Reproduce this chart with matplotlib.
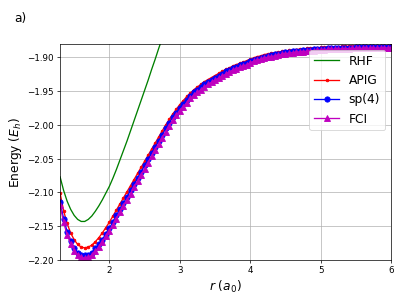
import numpy as np
import matplotlib
matplotlib.use('Agg')
import matplotlib.pyplot as plt

# bond length grid (a0)
r = np.round(np.arange(1.30, 6.001, 0.05), 2)

# RHF curve (line only)
r_rhf = [1.30, 1.35, 1.40, 1.45, 1.50, 1.55, 1.60, 1.65, 1.70, 1.75, 1.80,
         1.85, 1.90, 1.95, 2.00, 2.05, 2.10, 2.15, 2.20, 2.25, 2.30, 2.35,
         2.40, 2.45, 2.50, 2.55, 2.60, 2.65, 2.70, 2.75, 2.80]
e_rhf = [-2.077, -2.097, -2.113, -2.125, -2.134, -2.140, -2.143, -2.143, -2.140, -2.135,
         -2.128, -2.120, -2.111, -2.101, -2.091, -2.079, -2.066, -2.052, -2.038, -2.024,
         -2.009, -1.994, -1.979, -1.964, -1.949, -1.934, -1.918, -1.903, -1.887, -1.872,
         -1.856]

e_apig = [-2.101, -2.127, -2.146, -2.160, -2.170, -2.177, -2.181, -2.182, -2.181, -2.178,
          -2.173, -2.167, -2.160, -2.152, -2.144, -2.135, -2.126, -2.117, -2.108, -2.099,
          -2.090, -2.081, -2.072, -2.063, -2.054, -2.045, -2.036, -2.027, -2.018, -2.009,
          -2.000, -1.992, -1.984, -1.977, -1.970, -1.964, -1.958, -1.953, -1.948, -1.944,
          -1.940, -1.936, -1.933, -1.930, -1.927, -1.924, -1.921, -1.918, -1.916, -1.913,
          -1.911, -1.909, -1.907, -1.905, -1.903, -1.901, -1.899, -1.898, -1.896, -1.895,
          -1.894, -1.8931, -1.8922, -1.8914, -1.8906, -1.8899, -1.8892, -1.8886, -1.8880, -1.8875,
          -1.8870, -1.8866, -1.8862, -1.8858, -1.8855, -1.8852, -1.8849, -1.8846, -1.8844, -1.8842,
          -1.8840, -1.8838, -1.8836, -1.8835, -1.8834, -1.8833, -1.8832, -1.8831, -1.8830, -1.8829,
          -1.8828, -1.8827, -1.8826, -1.8826, -1.8825]

e_sp4 = [-2.114, -2.139, -2.158, -2.172, -2.182, -2.189, -2.193, -2.193, -2.192, -2.189,
         -2.183, -2.177, -2.170, -2.161, -2.153, -2.144, -2.134, -2.125, -2.116, -2.107,
         -2.097, -2.088, -2.079, -2.070, -2.060, -2.051, -2.042, -2.033, -2.024, -2.015,
         -2.005, -1.997, -1.989, -1.982, -1.975, -1.969, -1.963, -1.957, -1.952, -1.948,
         -1.944, -1.940, -1.937, -1.934, -1.931, -1.928, -1.925, -1.921, -1.919, -1.916,
         -1.914, -1.912, -1.910, -1.908, -1.906, -1.904, -1.902, -1.901, -1.899, -1.898,
         -1.897, -1.8954, -1.8945, -1.8937, -1.8928, -1.8921, -1.8914, -1.8908, -1.8902, -1.8897,
         -1.8892, -1.8888, -1.8884, -1.8880, -1.8877, -1.8873, -1.8870, -1.8867, -1.8865, -1.8863,
         -1.8861, -1.8859, -1.8857, -1.8856, -1.8855, -1.8854, -1.8853, -1.8852, -1.8851, -1.8850,
         -1.8849, -1.8848, -1.8847, -1.8847, -1.8846]

e_fci = [-2.119, -2.144, -2.163, -2.176, -2.186, -2.193, -2.196, -2.197, -2.196, -2.193,
         -2.187, -2.181, -2.174, -2.165, -2.157, -2.148, -2.139, -2.129, -2.120, -2.111,
         -2.102, -2.092, -2.083, -2.074, -2.065, -2.056, -2.046, -2.037, -2.028, -2.019,
         -2.010, -2.002, -1.993, -1.986, -1.979, -1.973, -1.967, -1.961, -1.956, -1.952,
         -1.948, -1.944, -1.940, -1.937, -1.934, -1.931, -1.928, -1.925, -1.922, -1.919,
         -1.917, -1.915, -1.913, -1.911, -1.908, -1.906, -1.904, -1.903, -1.901, -1.900,
         -1.899, -1.8978, -1.8968, -1.8957, -1.8946, -1.8939, -1.8932, -1.8926, -1.8920, -1.8915,
         -1.8910, -1.8906, -1.8902, -1.8898, -1.8890, -1.8887, -1.8884, -1.8881, -1.8879, -1.8877,
         -1.8875, -1.8873, -1.8871, -1.8870, -1.8869, -1.8868, -1.8867, -1.8866, -1.8865, -1.8864,
         -1.8863, -1.8862, -1.8861, -1.8861, -1.8860]

fig = plt.figure(figsize=(6.4, 4.8), dpi=63)
ax = fig.add_axes([0.149, 0.139, 0.821, 0.715])

ax.plot(r_rhf, e_rhf, 'g-', label='RHF')
ax.plot(r, e_apig, 'r.-', label='APIG')
ax.plot(r, e_sp4, 'bo-', label='sp(4)')
ax.plot(r, e_fci, 'm^-', label='FCI')

ax.set_xlim(1.3, 6.0)
ax.set_ylim(-2.20, -1.88)
ax.grid(True)
ax.set_xlabel('$r$ ($a_0$)', fontsize=14)
ax.set_ylabel('Energy ($E_h$)', fontsize=14)
ax.legend(loc='upper right', fontsize=14)

fig.text(0.035, 0.927, 'a)', fontsize=14, va='baseline')

fig.savefig('out.png', dpi=63)
